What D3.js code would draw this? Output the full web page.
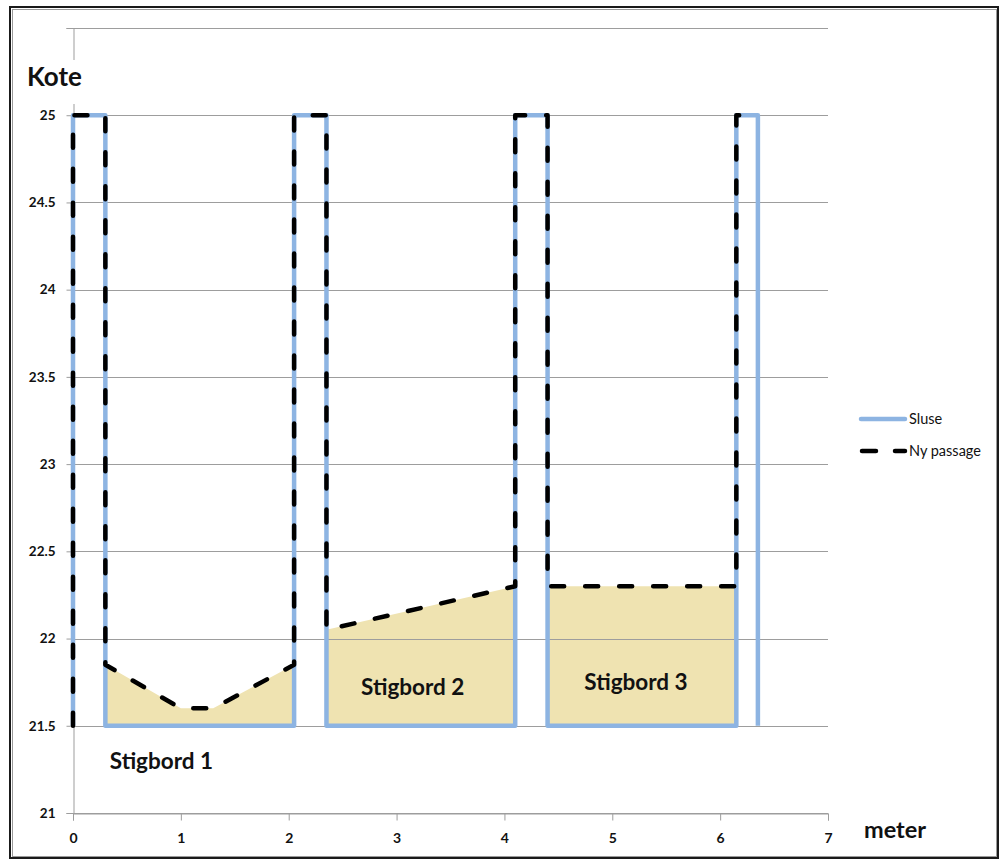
<!DOCTYPE html>
<html>
<head>
<meta charset="utf-8">
<script src="https://cdn.jsdelivr.net/npm/d3@7"></script>
<style>
  html, body { margin: 0; padding: 0; background: #fff; }
  svg { display: block; }
  text { font-family: Lato, "Open Sans", sans-serif; }
</style>
</head>
<body>
<svg id="chart" width="1001" height="861"></svg>
<script>
// Lock profile: gate walls ("Sluse") and the new passage ("Ny passage")
const sluseX = [0, 0, 0.3, 0.3, 2.05, 2.05, 2.35, 2.35, 4.1, 4.1, 4.4, 4.4, 6.15, 6.15, 6.35, 6.35];
const sluseY = [21.5, 25, 25, 21.5, 21.5, 25, 25, 21.5, 21.5, 25, 25, 21.5, 21.5, 25, 25, 21.5];

const passageX = [0, 0, 0.3, 0.3, 1.0, 1.3, 2.05, 2.05, 2.35, 2.35, 4.1, 4.1, 4.4, 4.4, 6.15, 6.15, 6.35];
const passageY = [21.5, 25, 25, 21.85, 21.6, 21.6, 21.85, 25, 25, 22.05, 22.3, 25, 25, 22.3, 22.3, 25, 25];

// Stepping boards (filled areas)
const board1X = [0.3, 0.3, 1.0, 1.3, 2.05, 2.05];
const board1Y = [21.5, 21.85, 21.6, 21.6, 21.85, 21.5];
const board2X = [2.35, 2.35, 4.1, 4.1];
const board2Y = [21.5, 22.05, 22.3, 21.5];
const board3X = [4.4, 4.4, 6.15, 6.15];
const board3Y = [21.5, 22.3, 22.3, 21.5];
const boardNames = ["Stigbord 1", "Stigbord 2", "Stigbord 3"];

const seriesNames = ["Sluse", "Ny passage"];
const xTicks = [0, 1, 2, 3, 4, 5, 6, 7];
const yTicks = [21, 21.5, 22, 22.5, 23, 23.5, 24, 24.5, 25];
const yGrid = [21, 21.5, 22, 22.5, 23, 23.5, 24, 24.5, 25, 25.5];

const svg = d3.select("#chart");

// outer frame
svg.append("rect").attr("x", 10).attr("y", 7).attr("width", 988).attr("height", 851)
  .attr("fill", "#fff").attr("stroke", "#1a1a1a").attr("stroke-width", 2);
svg.append("rect").attr("x", 12.5).attr("y", 9.5).attr("width", 984).attr("height", 847)
  .attr("fill", "none").attr("stroke", "#9a9a9a").attr("stroke-width", 1);

const x = d3.scaleLinear().domain([0, 7]).range([73, 828]);
const y = d3.scaleLinear().domain([21, 25.5]).range([813, 28]);

const gridColor = "#9d9d9d";

// filled boards
const boards = [[board1X, board1Y], [board2X, board2Y], [board3X, board3Y]];
const polyLine = d3.line().x(d => x(d[0])).y(d => y(d[1]));
svg.append("g").selectAll("path").data(boards).join("path")
  .attr("d", b => polyLine(d3.zip(b[0], b[1])) + "Z")
  .attr("fill", "#efe3b1");

// horizontal gridlines
svg.append("g").selectAll("line").data(yGrid).join("line")
  .attr("x1", x(0)).attr("x2", x(7))
  .attr("y1", d => Math.round(y(d)) + 0.5).attr("y2", d => Math.round(y(d)) + 0.5)
  .attr("stroke", gridColor).attr("stroke-width", 1);

// axes
const xAxis = d3.axisBottom(x).tickValues(xTicks).tickSize(7).tickFormat(d3.format("d"));
const gx = svg.append("g").attr("transform", `translate(0,${Math.round(y(21)) + 0.5})`).call(xAxis);
gx.select(".domain").attr("stroke", gridColor);
gx.selectAll(".tick line").attr("stroke", gridColor);
gx.selectAll(".tick text").attr("font-size", 14).attr("font-weight", "bold")
  .attr("fill", "#111").attr("dy", "1.4em").attr("font-family", "Lato, sans-serif");

const yAxis = d3.axisLeft(y).tickValues(yGrid).tickSize(7)
  .tickFormat(d => yTicks.includes(d) ? String(d) : "");
const gy = svg.append("g").attr("transform", `translate(${Math.round(x(0)) + 0.5},0)`).call(yAxis);
gy.select(".domain").attr("stroke", gridColor);
gy.selectAll(".tick line").attr("stroke", gridColor);
gy.selectAll(".tick text").attr("font-size", 13.5).attr("font-weight", "bold")
  .attr("fill", "#111").attr("x", -18).attr("font-family", "Lato, sans-serif");

// axis titles
svg.append("rect").attr("x", 24).attr("y", 60).attr("width", 64).attr("height", 44).attr("fill", "#fff");
svg.append("text").attr("x", 27).attr("y", 86).text("Kote")
  .attr("font-size", 26).attr("font-weight", "bold").attr("fill", "#111");
svg.append("text").attr("x", 864).attr("y", 838).text("meter")
  .attr("font-size", 23.5).attr("font-weight", "bold").attr("fill", "#111");

// series lines
const line = d3.line().x(d => x(d[0])).y(d => y(d[1]));
svg.append("path").attr("d", line(d3.zip(sluseX, sluseY)))
  .attr("fill", "none").attr("stroke", "#8db4e2").attr("stroke-width", 4.5)
  .attr("stroke-linejoin", "round");
svg.append("path").attr("d", line(d3.zip(passageX, passageY)))
  .attr("fill", "none").attr("stroke", "#000").attr("stroke-width", 4.5)
  .attr("stroke-linejoin", "round").attr("stroke-linecap", "round")
  .attr("stroke-dasharray", "13,21");

// board labels
const labelPos = [[0.82, 21.3], [3.15, 21.72], [5.22, 21.75]];
svg.append("g").selectAll("text").data(boardNames).join("text")
  .attr("x", (d, i) => x(labelPos[i][0])).attr("y", (d, i) => y(labelPos[i][1]))
  .attr("text-anchor", "middle").attr("dy", "0.35em")
  .attr("font-size", 22.5).attr("font-weight", "bold").attr("fill", "#111")
  .text(d => d);

// legend
const legend = svg.append("g");
const ly = [419, 451];
legend.append("line").attr("x1", 861).attr("x2", 905).attr("y1", ly[0]).attr("y2", ly[0])
  .attr("stroke", "#8db4e2").attr("stroke-width", 4.5).attr("stroke-linecap", "round");
legend.append("line").attr("x1", 862).attr("x2", 905).attr("y1", ly[1]).attr("y2", ly[1])
  .attr("stroke", "#000").attr("stroke-width", 4.5).attr("stroke-linecap", "round")
  .attr("stroke-dasharray", "14,19");
legend.selectAll("text").data(seriesNames).join("text")
  .attr("x", 909).attr("y", (d, i) => ly[i]).attr("dy", "0.35em")
  .attr("font-size", 14.5).attr("fill", "#111").text(d => d);
</script>
</body>
</html>
